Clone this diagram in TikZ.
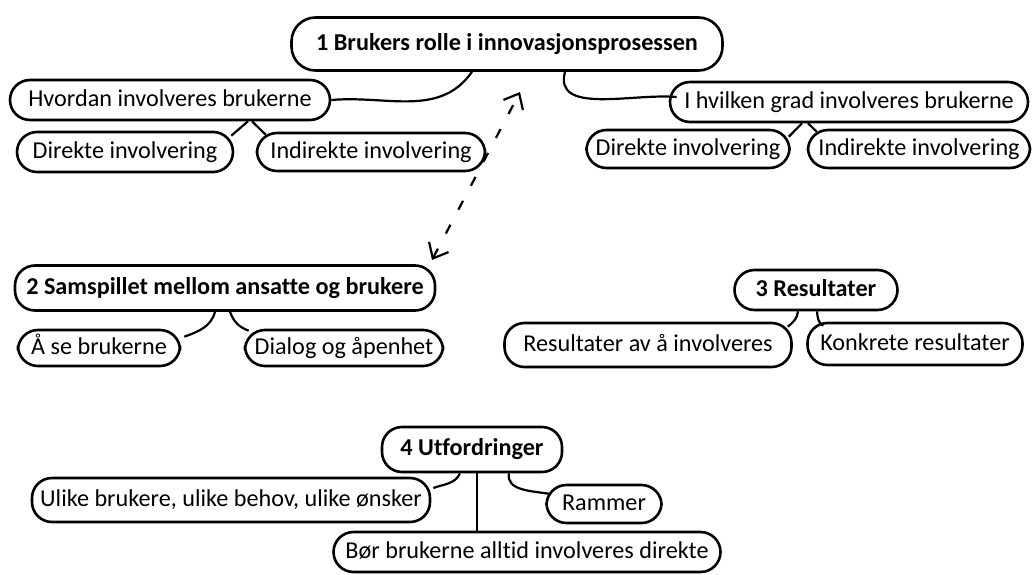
\documentclass[tikz,border=0pt]{standalone}
\usepackage{fontspec}
\setmainfont{Carlito}[Ligatures=NoCommon]
\usetikzlibrary{calc,arrows.meta}

\begin{document}
\begin{tikzpicture}[x=0.5pt, y=0.5pt,
	bubble/.style={draw, line width=1.3pt, rounded corners=10pt, inner sep=0pt,
		minimum height=19pt, text height=8.6pt, text depth=2.4pt,
		font=\fontsize{12.1}{14}\selectfont},
	head/.style={bubble, font=\fontsize{12.1}{14}\selectfont\bfseries},
	link/.style={line width=1.1pt}]
	%%%%% START %%%%%
	\useasboundingbox (0, 0) rectangle (1032, 574);
	
	\node[head, minimum width=215.5pt, minimum height=26.5pt, rounded corners=12pt] (brukers) at (507, 530) {1 Brukers rolle i innovasjonsprosessen};
	
	\node[bubble, minimum width=160pt, minimum height=20pt] (hvordan) at (170, 474) {Hvordan involveres brukerne};
	\node[bubble, minimum width=108pt, minimum height=20pt] (dirL) at (125, 422) {Direkte involvering};
	\node[bubble, minimum width=114pt] (indirL) at (371, 422) {Indirekte involvering};
	
	\node[bubble, minimum width=179pt, minimum height=20pt] (grad) at (849, 472) {I hvilken grad involveres brukerne};
	\node[bubble, minimum width=101.5pt] (dirR) at (688, 425) {Direkte involvering};
	\node[bubble, minimum width=111pt] (indirR) at (919, 425) {Indirekte involvering};
	
	\node[head, minimum width=210pt, minimum height=22.5pt] (samspill) at (225, 286) {2 Samspillet mellom ansatte og brukere};
	\node[bubble, minimum width=81pt, minimum height=18pt] (se) at (99, 226) {Å se brukerne};
	\node[bubble, minimum width=99pt, minimum height=18pt] (dialog) at (344, 226) {Dialog og åpenhet};
	
	\node[head, minimum width=81.5pt, minimum height=20pt] (resultat) at (816, 284) {3 Resultater};
	\node[bubble, minimum width=143.5pt, minimum height=22pt] (resInv) at (648, 229) {Resultater av å involveres};
	\node[bubble, minimum width=107.5pt, minimum height=21pt] (konkret) at (915, 230) {Konkrete resultater};
	
	\node[head, minimum width=90pt, minimum height=22.5pt] (utford) at (472, 124.5) {4 Utfordringer};
	\node[bubble, minimum width=199pt, minimum height=22pt] (ulike) at (231, 74) {Ulike brukere, ulike behov, ulike ønsker};
	\node[bubble, minimum width=57.5pt] (rammer) at (604, 70) {Rammer};
	\node[bubble, minimum width=193.5pt, minimum height=20pt] (boer) at (527, 22) {Bør brukerne alltid involveres direkte};
	
	% branches
	\draw[link] ($(brukers.south)+(-35,0)$) to[out=-125, in=5] (hvordan.east);
	\draw[link] ($(brukers.south)+(58,0)$) to[out=-105, in=175] ($(grad.west)+(8,5)$);
	
	\draw[link] ($(hvordan.south)+(78,0)$) -- ($(dirL.north east)+(-3,-5)$);
	\draw[link] ($(hvordan.south)+(82,0)$) -- ($(indirL.north west)+(10,-3)$);
	
	\draw[link] ($(grad.south)+(-47,0)$) -- ($(dirR.north east)+(-2,-8)$);
	\draw[link] ($(grad.south)+(-41,0)$) -- ($(indirR.north west)+(10,-3)$);
	
	\draw[link] ($(samspill.south)+(-10,0)$) to[out=-105, in=20] ($(se.north east)+(3,-8)$);
	\draw[link] ($(samspill.south)+(5,0)$) to[out=-70, in=160] ($(dialog.north west)+(5,-2)$);
	
	\draw[link] ($(resultat.south)+(-18,0)$) to[out=-95, in=40] ($(resInv.north east)+(-5,-5)$);
	\draw[link] ($(resultat.south)+(1,0)$) to[out=-85, in=150] ($(konkret.north west)+(17,-4)$);
	
	\draw[link] ($(utford.south)+(-12,0)$) to[out=-115, in=20] ($(ulike.east)+(2,12)$);
	\draw[link] ($(utford.south)+(5,0)$) -- ($(boer.north)+(-50,0)$);
	\draw[link] ($(utford.south)+(37,0)$) to[out=-100, in=170] ($(rammer.west)+(5,10)$);
	
	% dashed double arrow
	\coordinate (arrUp) at (520, 482);
	\coordinate (arrDown) at (432, 314);
	\draw[link, dash pattern=on 5pt off 8.5pt, {Straight Barb[length=6.5pt, width=11pt]}-{Straight Barb[length=6.5pt, width=11pt]}] (arrDown) -- (arrUp);
	%%%%% END %%%%%
\end{tikzpicture}
\end{document}
